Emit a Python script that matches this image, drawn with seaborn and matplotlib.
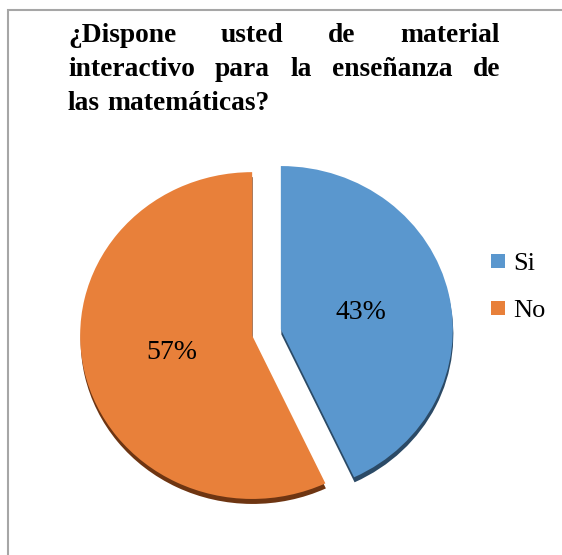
import matplotlib
matplotlib.use("Agg")
import matplotlib.pyplot as plt
from matplotlib.patches import Rectangle
from matplotlib.lines import Line2D
import seaborn as sns

# chart data
labels = ["Si", "No"]
values = [43, 57]
colors = ["#5A97CE", "#E8803A"]
shadow_colors = ["#2B4A66", "#6E3512"]
title_lines = [
    "¿Dispone usted de material",
    "interactivo para la enseñanza de",
    "las matemáticas?",
]

sns.set_theme(style="white")
plt.rcParams["font.family"] = ["Liberation Serif", "DejaVu Serif"]
plt.rcParams["text.color"] = "black"

W, H = 562, 555
SY = 0.95  # slight vertical squash, like the tilted 3D pie
fig = plt.figure(figsize=(W / 100, H / 100), dpi=100)
fig.patch.set_facecolor("white")
ax = fig.add_axes([0, 0, 1, 1])

R = 172
cx, cy = 266.5, (H - 332.5) / SY
explode = [14.7, 14.7]  # data units (pie does not scale explode by radius)

# darker copy underneath gives the bevelled edge
ax.pie(values, colors=shadow_colors, startangle=90, counterclock=False,
       explode=explode, radius=R, center=(cx + 0.5, cy - 5 / SY),
       wedgeprops=dict(linewidth=0))
wedges, texts, autotexts = ax.pie(
    values, colors=colors, startangle=90, counterclock=False,
    explode=explode, radius=R, center=(cx, cy),
    autopct="%1.0f%%", pctdistance=0.48,
    wedgeprops=dict(linewidth=0),
    textprops=dict(fontsize=20, color="black"))

ax.set_aspect("auto")
ax.set_xlim(0, W)
ax.set_ylim(0, H / SY)
ax.axis("off")

# legend
handles = [Line2D([], [], marker="s", linestyle="none", markersize=9.5,
                  markerfacecolor=c, markeredgewidth=0) for c in colors]
fig.legend(handles, labels, loc="center left",
           bbox_to_anchor=(491 / W, 1 - 287 / H), frameon=False,
           fontsize=19, handlelength=0.55, handletextpad=0.3,
           labelspacing=0.9, borderpad=0, borderaxespad=0,
           labelcolor="black")

# justified bold title
renderer = fig.canvas.get_renderer()
x_left, x_right = 68, 500
baselines = [42, 76, 110]
for i, line in enumerate(title_lines):
    words = line.split(" ")
    objs = [fig.text(0, 1 - baselines[i] / H, w, fontsize=19.8,
                     fontweight="bold", va="baseline", ha="left",
                     color="black")
            for w in words]
    widths = [t.get_window_extent(renderer).width for t in objs]
    if i < len(title_lines) - 1 and len(words) > 1:
        gap = (x_right - x_left - sum(widths)) / (len(words) - 1)
    else:
        gap = objs[0].get_fontsize() * 0.25 * 100 / 72
    x = x_left
    for t, w in zip(objs, widths):
        t.set_x(x / W)
        x += w + gap

# frame around the chart area (right/bottom edges fall outside)
fig.patches.append(Rectangle((8 / W, -0.1), 1.0, 1 - 10 / H + 0.1,
                             transform=fig.transFigure, fill=False,
                             edgecolor="#A6A6A6", linewidth=1.5))

fig.savefig("out.png", dpi=100)
